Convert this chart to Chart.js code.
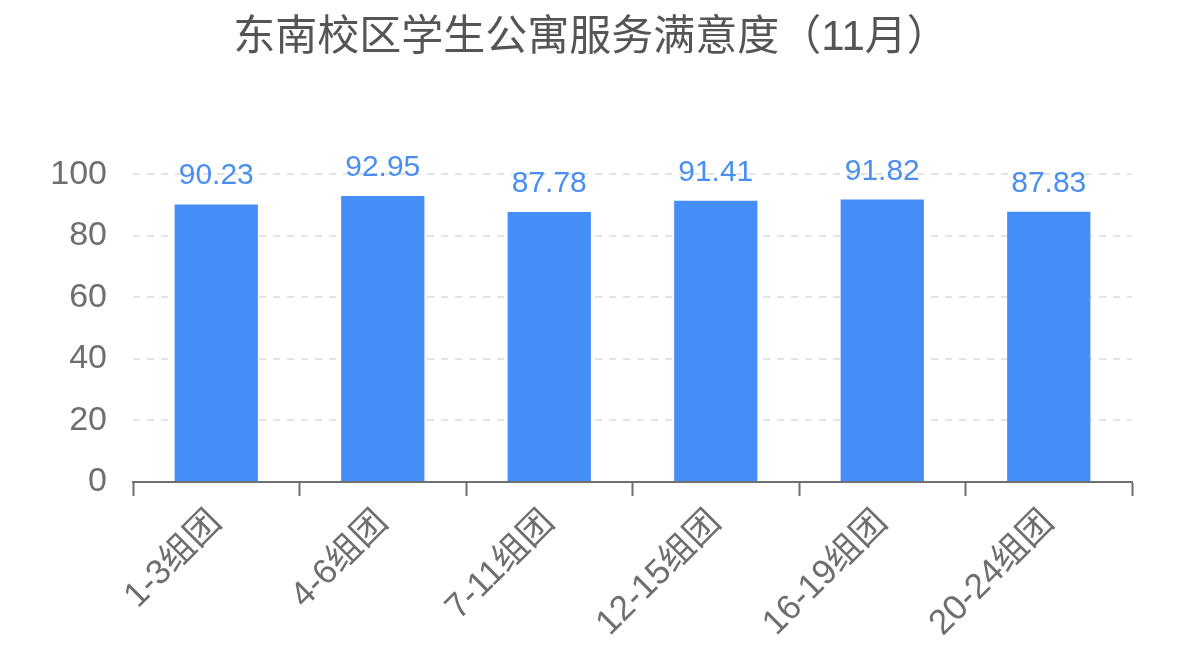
<!DOCTYPE html>
<html>
<head>
<meta charset="utf-8">
<script src="https://cdn.jsdelivr.net/npm/chart.js@4/dist/chart.umd.min.js"></script>
<style>
  html, body { margin: 0; padding: 0; background: #fff; }
  #wrap { width: 1179px; height: 667px; }
</style>
</head>
<body>
<div id="wrap"><canvas id="myChart" width="1179" height="667"></canvas></div>
<script>
// datos del gráfico
const titleText = '东南校区学生公寓服务满意度（11月）';
const groups = ['1-3组团', '4-6组团', '7-11组团', '12-15组团', '16-19组团', '20-24组团'];
const scores = [90.23, 92.95, 87.78, 91.41, 91.82, 87.83];
const yTicks = [0, 20, 40, 60, 80, 100];

const fontFamily = "Helvetica, Arial, 'Liberation Sans', 'Noto Sans CJK SC', sans-serif";

// etiquetas encima de cada barra
const valueLabels = {
  id: 'valueLabels',
  afterDatasetsDraw(chart) {
    const ctx = chart.ctx;
    const meta = chart.getDatasetMeta(0);
    ctx.save();
    ctx.fillStyle = '#4a8ff0';
    ctx.font = '30px ' + fontFamily;
    ctx.textAlign = 'center';
    ctx.textBaseline = 'alphabetic';
    meta.data.forEach((bar, i) => {
      ctx.fillText(scores[i].toFixed(2), bar.x, bar.y - 20);
    });
    ctx.restore();
  }
};

new Chart(document.getElementById('myChart').getContext('2d'), {
  type: 'bar',
  data: {
    labels: groups,
    datasets: [{
      data: scores,
      backgroundColor: '#458ef7',
      borderWidth: 0,
      barPercentage: 0.5,
      categoryPercentage: 1.0
    }]
  },
  options: {
    responsive: false,
    animation: false,
    layout: { padding: { left: 50, right: 47, bottom: 0 } },
    plugins: {
      legend: { display: false },
      tooltip: { enabled: false },
      title: {
        display: true,
        text: titleText,
        color: '#555555',
        font: { size: 42, family: fontFamily, weight: 'normal' },
        padding: { top: 13, bottom: 111 },
        align: 'center'
      }
    },
    scales: {
      x: {
        offset: true,
        grid: {
          display: true,
          offset: true,
          drawOnChartArea: false,
          drawTicks: true,
          tickLength: 14,
          tickWidth: 2,
          tickColor: '#6e6e74'
        },
        border: { display: true, color: '#6e6e74', width: 2 },
        ticks: {
          color: '#6e6e6e',
          font: { size: 35, family: fontFamily },
          maxRotation: 45,
          minRotation: 45,
          padding: 6,
          autoSkip: false
        },
        afterFit(axis) { axis.height = 185; }
      },
      y: {
        min: 0,
        max: 100,
        afterBuildTicks(axis) { axis.ticks = yTicks.map(v => ({ value: v })); },
        grid: {
          color: '#e3e3e3',
          lineWidth: 2,
          drawTicks: false
        },
        border: { display: false, dash: [7, 7] },
        ticks: {
          color: '#6e6e6e',
          font: { size: 34, family: fontFamily },
          padding: 26
        },
        afterFit(axis) { axis.width = 83; }
      }
    }
  },
  plugins: [valueLabels]
});
</script>
</body>
</html>
